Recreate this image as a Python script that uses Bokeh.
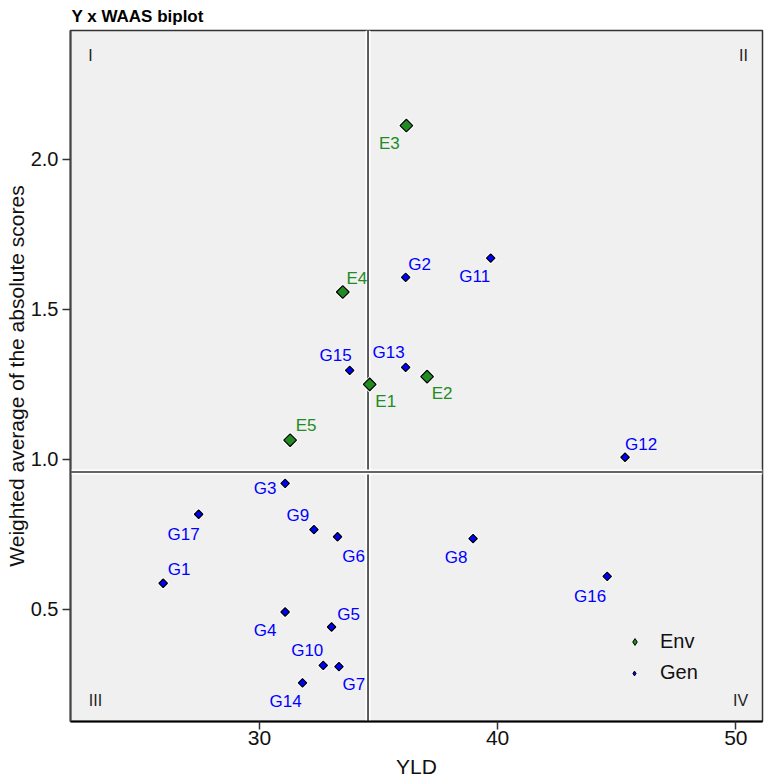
import math
from bokeh.plotting import figure
from bokeh.models import (Range1d, Span, Legend, LegendItem, ColumnDataSource,
                          FixedTicker, PrintfTickFormatter)
from bokeh.core.properties import value
from bokeh.embed import file_html
from bokeh.resources import INLINE

# ---------------- data ----------------
env_names = ["E1", "E2", "E3", "E4", "E5"]
env_yld = [34.63, 37.04, 36.17, 33.50, 31.29]
env_waas = [1.249, 1.275, 2.112, 1.557, 1.063]

gen_names = ["G1", "G2", "G3", "G4", "G5", "G6", "G7", "G8", "G9", "G10",
             "G11", "G12", "G13", "G14", "G15", "G16", "G17"]
gen_yld = [25.96, 36.14, 31.08, 31.08, 33.03, 33.28, 33.34, 38.97, 32.29, 32.68,
           39.71, 45.35, 36.14, 31.81, 33.79, 44.60, 27.45]
gen_waas = [0.586, 1.606, 0.919, 0.490, 0.440, 0.741, 0.308, 0.735, 0.765, 0.312,
            1.670, 1.006, 1.306, 0.254, 1.296, 0.609, 0.816]

mean_yld = 34.56
mean_waas = 0.957

x_ticks = [30, 40, 50]
y_ticks = [0.5, 1.0, 1.5, 2.0]
quadrants = ["I", "II", "III", "IV"]
title_text = "Y x WAAS biplot"

# ---------------- layout / style ----------------
x_lo, x_hi = 22.07, 51.12
y_lo, y_hi = 0.125, 2.429

# label offsets in screen pixels (dx right, dy down)
label_offsets = {
    "E1": (16, 17), "E2": (15, 17), "E3": (-17, 18), "E4": (14, -14), "E5": (16, -15),
    "G1": (16, -14), "G2": (14, -13), "G3": (-20, 5), "G4": (-20, 18), "G5": (17, -13),
    "G6": (16, 20), "G7": (15, 18), "G8": (-17, 19), "G9": (-16, -14), "G10": (-16, -15),
    "G11": (-16, 18), "G12": (16, -13), "G13": (-17, -15), "G14": (-17, 19),
    "G15": (-14, -15), "G16": (-17, 20), "G17": (-15, 20),
}

FONT = "Liberation Sans"
ENV_COL = "forestgreen"
GEN_COL = "blue"
TXT = "#111111"
NAN = float("nan")

p = figure(width=766, height=783, output_backend="svg", toolbar_location=None,
           x_range=Range1d(x_lo, x_hi), y_range=Range1d(y_lo, y_hi),
           min_border_left=70, min_border_right=4, min_border_top=28, min_border_bottom=62)

p.background_fill_color = "#F0F0F0"
p.border_fill_color = "white"
p.outline_line_color = "#333333"
p.outline_line_width = 1.5
p.xgrid.visible = False
p.ygrid.visible = False

p.title.text = title_text
p.title.text_font = FONT
p.title.text_font_style = "bold"
p.title.text_font_size = "17px"
p.title.text_color = "black"
p.title.vertical_align = "bottom"
p.title.standoff = 9
p.title.offset = 1

for ax in (p.xaxis[0], p.yaxis[0]):
    ax.major_label_text_font = FONT
    ax.major_label_text_color = TXT
    ax.axis_label_text_font = FONT
    ax.axis_label_text_font_style = "normal"
    ax.axis_label_text_color = TXT
    ax.minor_tick_line_color = None
    ax.major_tick_in = 0
    ax.major_tick_out = 8
    ax.major_tick_line_color = "#333333"
    ax.major_tick_line_width = 1.5

p.xaxis.axis_label = "YLD"
p.xaxis.major_label_text_font_size = "21px"
p.xaxis.axis_label_text_font_size = "21px"
p.xaxis.major_label_standoff = 1
p.xaxis.axis_label_standoff = 7
p.yaxis.axis_label = "Weighted average of the absolute scores"
p.yaxis.major_label_text_font_size = "20px"
p.yaxis.axis_label_text_font_size = "21px"
p.yaxis.major_label_standoff = 4
p.yaxis.axis_label_standoff = 0

p.xaxis.ticker = FixedTicker(ticks=x_ticks)
p.yaxis.ticker = FixedTicker(ticks=y_ticks)
p.yaxis.formatter = PrintfTickFormatter(format="%.1f")
p.xaxis.axis_line_color = "black"
p.xaxis.axis_line_width = 2
p.yaxis.axis_line_color = "#444444"
p.yaxis.axis_line_width = 2

# crosshair at the means
for dim, loc in (("height", mean_yld), ("width", mean_waas)):
    p.add_layout(Span(location=loc, dimension=dim, line_color="white", line_width=5, level="underlay"))
    p.add_layout(Span(location=loc, dimension=dim, line_color="#333333", line_width=1.6, level="underlay"))

# quadrant numerals
p.text(x=[x_lo, x_hi, x_lo, x_hi], y=[y_hi, y_hi, y_lo, y_lo], text=quadrants,
       x_offset=[20, -19, 25, -22], y_offset=[25, 25, -21, -21],
       text_font=value(FONT), text_font_size=value("16px"), text_color="#222222",
       text_align="center", text_baseline="middle")

# sources
env_src = ColumnDataSource(dict(x=env_yld, y=env_waas, name=env_names,
                                dx=[label_offsets[n][0] for n in env_names],
                                dy=[label_offsets[n][1] for n in env_names]))
gen_src = ColumnDataSource(dict(x=gen_yld, y=gen_waas, name=gen_names,
                                dx=[label_offsets[n][0] for n in gen_names],
                                dy=[label_offsets[n][1] for n in gen_names]))

# white halos under markers
p.scatter("x", "y", source=env_src, marker="square", angle=math.pi / 4, size=12,
          fill_color="white", line_color=None)
p.scatter("x", "y", source=gen_src, marker="square", angle=math.pi / 4, size=9,
          fill_color="white", line_color=None)

p.scatter("x", "y", source=env_src, marker="square", angle=math.pi / 4, size=9,
          fill_color=ENV_COL, line_color="black", line_width=1.2)
p.scatter("x", "y", source=gen_src, marker="square", angle=math.pi / 4, size=6,
          fill_color=GEN_COL, line_color="black", line_width=1.2)

p.text("x", "y", text="name", source=env_src, x_offset="dx", y_offset="dy",
       text_font=value(FONT), text_font_size=value("17px"), text_color=ENV_COL,
       text_align="center", text_baseline="middle")
p.text("x", "y", text="name", source=gen_src, x_offset="dx", y_offset="dy",
       text_font=value(FONT), text_font_size=value("17px"), text_color=GEN_COL,
       text_align="center", text_baseline="middle")

# legend keys: diamond markers on a non-drawn (NaN) point
env_key = p.scatter(x=[NAN], y=[NAN], marker="diamond", fill_color=ENV_COL,
                    line_color="black", line_width=1)
gen_key = p.scatter(x=[NAN], y=[NAN], marker="diamond", fill_color=GEN_COL,
                    line_color="black", line_width=1)

def make_legend(label, rend, glyph, loc, standoff):
    lg = Legend(items=[LegendItem(label=label, renderers=[rend])], location=loc,
                glyph_width=glyph, glyph_height=glyph, label_standoff=standoff,
                padding=0, margin=0, spacing=0,
                background_fill_alpha=0, border_line_alpha=0,
                label_text_font=FONT, label_text_font_size="20px",
                label_text_color=TXT, label_height=22)
    p.add_layout(lg)

make_legend("Env", env_key, 17, (556, 68), 17)
make_legend("Gen", gen_key, 12, (558, 37), 20)

open("out.html", "w").write(file_html(p, INLINE))
